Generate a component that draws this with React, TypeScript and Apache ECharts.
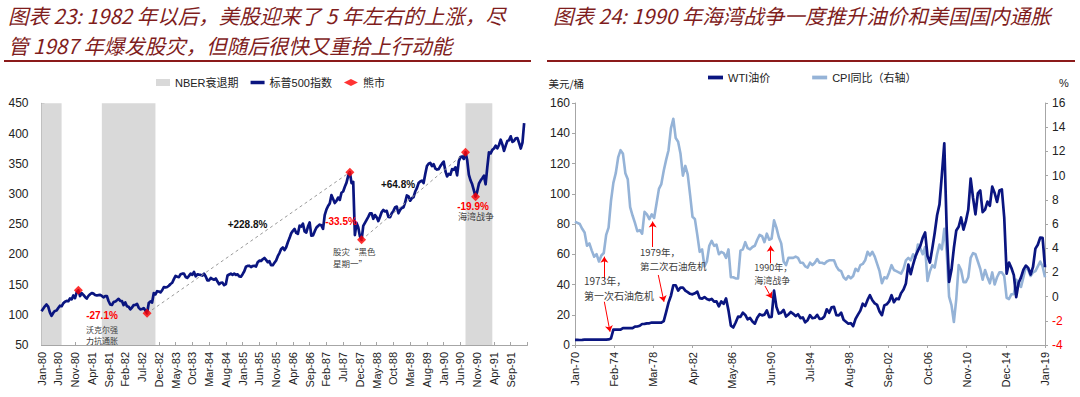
import React, { useEffect, useRef } from 'react';
import * as echarts from 'echarts';

const MONTHS = ['Jan', 'Feb', 'Mar', 'Apr', 'May', 'Jun', 'Jul', 'Aug', 'Sep', 'Oct', 'Nov', 'Dec'];

// ---------- Left chart: S&P 500, semi-monthly (start / mid of each month), from Jan 1980 ----------
const SPX_BASE_YEAR = 1980;
const spx = [
  105.8, 110, 114, 117, 113.7, 104, 98.2, 103, 106.3, 107, 111.2, 115, 114.2, 119, 121.7, 123, 122.4, 127, 125.5, 132, 127.5, 137, 140.5, 131,
  135.8, 133, 129.6, 127, 131.3, 134, 136, 135, 132.8, 132, 132.6, 133, 131.2, 129, 130.9, 131, 122.8, 117, 116.2, 121, 121.9, 124, 126.4, 123,
  122.6, 116, 120.4, 114, 113.1, 109, 112, 116, 116.4, 118, 111.9, 109, 109.6, 111, 107.1, 102.4, 119.5, 122, 120.4, 136, 133.7, 139, 138.5, 137,
  140.6, 146, 145.3, 146, 148.1, 151, 153, 159, 164.4, 163, 162.4, 167, 168.1, 168, 162.6, 161, 164.4, 168, 166.1, 171, 163.6, 167, 166.4, 166,
  164.9, 168, 163.4, 157, 157.1, 161, 159.2, 158, 160.1, 155, 150.6, 153, 153.2, 149, 150.7, 165, 166.7, 168, 166.1, 168, 166.1, 167, 163.6, 163,
  167.2, 172, 179.6, 181, 181.2, 179, 180.7, 181, 179.8, 187, 189.6, 189, 191.9, 194, 190.9, 187, 188.6, 182, 182.1, 186, 189.8, 197, 202.2, 209,
  211.3, 207, 211.8, 220, 226.9, 235, 238.9, 242, 235.5, 234, 247.4, 246, 250.8, 238, 236.1, 246, 252.9, 231, 231.3, 238, 244, 247, 249.2, 248,
  242.2, 265, 274.1, 280, 284.2, 298, 291.7, 285, 288.4, 294, 290.1, 302, 304, 312, 318.7, 330, 336, 318, 320, 232, 252, 245, 230, 224,
  247.1, 252, 257.1, 262, 267.8, 268, 258.9, 265, 261.3, 255, 262.2, 270, 273.5, 271, 272, 262, 261.5, 268, 271.9, 278, 279, 268, 273.7, 277,
  277.7, 286, 297.5, 296, 288.9, 293, 294.9, 304, 309.6, 318, 320.5, 322, 318, 333, 346.1, 350, 351.5, 346, 349.2, 342, 340.4, 341, 346, 350,
  353.4, 338, 329.1, 333, 331.9, 341, 339.9, 344, 330.8, 354, 361.2, 362, 358, 369, 356.2, 332, 322.6, 316, 306, 295.5, 304, 317, 322.2, 326,
  330.2, 316, 343.9, 369, 367.1, 373, 375.2, 380, 375.3, 381, 389.8, 382, 371.2, 380, 387.8, 389, 395.4, 386, 387.9, 392, 392.5, 384, 375.2, 385,
  417.1,
];
// NBER recessions, in months since Jan 1980
const nberStart = [0, 18, 126.5];
const nberEnd = [6, 34, 134.5];
// Bear market turning points (months since Jan 1980, index level)
const bearX = [11, 31.5, 92, 95.5, 126.5, 129.5];
const bearY = [140.5, 102.4, 336, 224, 369, 295.5];

// ---------- Right chart: WTI & CPI YoY, quarterly (Jan/Apr/Jul/Oct) from Jan 1970 ----------
const OIL_BASE_YEAR = 1970;
const wti = [
  3.35, 3.35, 3.31, 3.4, 3.56, 3.56, 3.56, 3.56, 3.56, 3.56, 3.56, 3.56, 3.56, 3.56, 3.66, 4.31,
  10.11, 10.11, 10.11, 10.11, 11.16, 11.16, 11.16, 11.16, 11.16, 12.17, 12.23, 12.7, 13.9, 13.93, 14.27, 14.35,
  14.85, 14.85, 14.85, 14.85, 14.85, 15.85, 21.75, 28.0, 32.5, 39.5, 39.5, 36.0, 38.0, 38.0, 36.0, 35.0,
  33.85, 33.5, 34.2, 35.3, 31.0, 30.6, 31.7, 30.4, 29.7, 30.5, 28.7, 28.8, 25.6, 28.8, 27.3, 30.8,
  22.9, 12.8, 11.6, 14.9, 18.7, 18.6, 21.4, 19.9, 17.0, 17.9, 15.5, 14.1, 18.0, 20.4, 19.6, 20.1,
  22.9, 18.4, 18.6, 35.9, 25.2, 20.8, 21.4, 23.2, 18.8, 20.2, 21.8, 20.6, 19.1, 20.3, 17.8, 18.2,
  15.0, 16.4, 19.7, 17.7, 18.0, 19.9, 17.3, 17.4, 18.9, 23.6, 21.3, 24.9, 25.2, 19.7, 19.6, 21.3,
  16.7, 15.4, 14.1, 14.4, 12.5, 17.3, 20.1, 22.7, 27.3, 25.7, 29.8, 32.9, 29.6, 27.5, 26.5, 22.2,
  19.7, 26.2, 26.9, 28.8, 32.9, 28.3, 30.7, 30.3, 34.3, 36.7, 40.7, 53.1, 46.8, 53.2, 58.7, 62.4,
  65.5, 70.9, 74.4, 58.9, 54.5, 63.9, 74.1, 85.8, 93.0, 112.6, 133.4, 76.7, 41.7, 49.7, 64.1, 75.7,
  78.2, 84.3, 76.3, 81.9, 89.4, 110.0, 97.2, 86.4, 100.3, 102.2, 87.9, 89.5, 94.8, 92.0, 104.7, 100.5,
  94.6, 102.1, 102.9, 84.3, 47.2, 54.5, 50.9, 46.2, 31.7, 41.1, 44.7, 49.8, 52.5, 51.0, 46.6, 51.6,
  63.7, 66.3, 71.0, 70.8, 51.4,
];
const cpi = [
  6.2, 6.1, 6.0, 5.6, 5.3, 4.2, 4.4, 3.8, 3.3, 3.5, 2.9, 3.4, 3.6, 5.1, 5.7, 7.9,
  9.4, 10.2, 11.5, 12.1, 11.8, 10.2, 9.7, 7.4, 6.7, 6.1, 5.4, 5.5, 5.2, 7.0, 6.8, 6.4,
  6.8, 6.5, 7.7, 8.9, 9.3, 10.4, 11.3, 12.1, 13.9, 14.7, 13.1, 12.8, 11.8, 10.0, 10.8, 10.1,
  8.4, 6.6, 6.4, 5.1, 3.7, 3.9, 2.5, 2.9, 4.2, 4.6, 4.2, 4.3, 3.5, 3.7, 3.6, 3.2,
  3.9, 1.6, 1.6, 1.5, 1.5, 3.8, 3.9, 4.5, 4.0, 3.9, 4.1, 4.2, 4.7, 5.1, 5.0, 4.5,
  5.2, 4.7, 4.8, 6.3, 5.7, 4.9, 4.4, 2.9, 2.6, 3.2, 3.2, 3.2, 3.3, 3.2, 2.8, 2.8,
  2.5, 2.4, 2.8, 2.6, 2.8, 3.1, 2.8, 2.8, 2.7, 2.9, 3.0, 3.0, 3.0, 2.5, 2.2, 2.1,
  1.6, 1.4, 1.7, 1.5, 1.7, 2.3, 2.1, 2.6, 2.7, 3.0, 3.7, 3.4, 3.7, 3.3, 2.7, 2.1,
  1.1, 1.6, 1.5, 2.0, 2.6, 2.2, 2.1, 2.0, 1.9, 2.3, 3.0, 3.2, 3.0, 3.5, 3.2, 4.3,
  4.0, 3.5, 4.1, 1.3, 2.1, 2.6, 2.4, 3.5, 4.3, 3.9, 5.6, 3.7, 0.0, -0.7, -2.1, -0.2,
  2.6, 2.2, 1.2, 1.2, 1.6, 3.2, 3.6, 3.5, 2.9, 2.3, 1.4, 2.2, 1.6, 1.1, 2.0, 1.0,
  1.6, 2.0, 2.0, 1.7, -0.1, -0.2, 0.2, 0.2, 1.4, 1.1, 0.8, 1.6, 2.5, 2.2, 1.7, 2.0,
  2.1, 2.5, 2.9, 2.5, 1.6,
];
// annotation arrows (months since Jan 1970; start value -> tip value)
const cpiArrows = [[36.7, 1.4, 36.7, 3.3], [97.2, 4.1, 97.2, 6.2], [244.8, 2.75, 244.8, 4.2]];
const oilArrows = [[36.7, 28.6, 43.8, 8.8], [104.2, 46.3, 111.3, 28.6], [237.7, 39.0, 246.1, 30.9]];

const FONT = "'Liberation Sans', 'Noto Sans CJK SC', sans-serif";
const CJK = "'Noto Sans CJK SC', 'Liberation Sans', sans-serif";
const TITLE_COLOR = '#7f1d1d';
const NAVY = '#0a1580';
const AXIS_GRAY = '#a6a6a6';
const LINE_ICON = 'path://M0,0L14,0L14,3.5L0,3.5Z';

const monthLabel = (base: number, step: number, last: number) => (v: any) => {
  const n = Number(v);
  if (Math.abs(n - Math.round(n)) > 1e-6) return '';
  const i = Math.round(n);
  if (i % step !== 0 || i > last) return '';
  const y = base + Math.floor(i / 12);
  return MONTHS[i % 12] + '-' + String(y % 100).padStart(2, '0');
};

function txt(text: string, x: number, y: number, o: any = {}) {
  return {
    type: 'text',
    x,
    y,
    silent: true,
    z: 100,
    style: {
      text,
      fill: o.fill || '#404040',
      fontSize: o.fontSize || 10,
      fontFamily: o.fontFamily || CJK,
      fontWeight: o.fontWeight || 'normal',
      fontStyle: o.fontStyle || 'normal',
      lineHeight: o.lineHeight,
      align: o.align || 'left',
      textAlign: o.align || 'left',
      verticalAlign: 'middle',
      textVerticalAlign: 'middle',
    },
  };
}

export default function App() {
  const ref = useRef<HTMLDivElement>(null);
  useEffect(() => {
    if (!ref.current) return;
    const chart = echarts.init(ref.current, undefined, { renderer: 'svg' });
    const spxData = spx.map((v, i) => [i / 2, v]);
    const wtiData = wti.map((v, i) => [i * 3, v]);
    const cpiData = cpi.map((v, i) => [i * 3, v]);
    const bearData = bearX.map((x, i) => [x, bearY[i]]);

    const axisLabelBase = { color: '#222', fontFamily: FONT };
    const option: any = {
      animation: false,
      textStyle: { fontFamily: FONT },
      grid: [
        { left: 41.5, top: 103.3, width: 486, height: 241.7 },
        { left: 575, top: 103, width: 470, height: 242 },
      ],
      xAxis: [
        {
          type: 'value', gridIndex: 0, min: 0, max: 145, interval: 5,
          splitLine: { show: false },
          axisLine: { lineStyle: { color: AXIS_GRAY } },
          axisTick: { inside: true, length: 3, lineStyle: { color: AXIS_GRAY } },
          axisLabel: { ...axisLabelBase, rotate: 90, fontSize: 11, margin: 7, formatter: monthLabel(SPX_BASE_YEAR, 5, 140) },
        },
        {
          type: 'value', gridIndex: 1, min: 0, max: 588, interval: 49,
          splitLine: { show: false },
          axisLine: { lineStyle: { color: AXIS_GRAY } },
          axisTick: { length: 3, lineStyle: { color: AXIS_GRAY } },
          axisLabel: { ...axisLabelBase, rotate: 90, fontSize: 11, margin: 7, formatter: monthLabel(OIL_BASE_YEAR, 49, 588) },
        },
      ],
      yAxis: [
        {
          type: 'value', gridIndex: 0, min: 50, max: 450, interval: 50,
          splitLine: { show: false },
          axisLine: { show: true, lineStyle: { color: AXIS_GRAY } },
          axisTick: { show: true, inside: true, length: 3, lineStyle: { color: AXIS_GRAY } },
          axisLabel: { ...axisLabelBase, fontSize: 12, margin: 13 },
        },
        {
          type: 'value', gridIndex: 1, min: 0, max: 160, interval: 20, position: 'left',
          splitLine: { show: false },
          axisLine: { show: true, lineStyle: { color: AXIS_GRAY } },
          axisTick: { show: true, length: 3, lineStyle: { color: AXIS_GRAY } },
          axisLabel: { ...axisLabelBase, fontSize: 12, margin: 5 },
        },
        {
          type: 'value', gridIndex: 1, min: -4, max: 16, interval: 2, position: 'right',
          splitLine: { show: false },
          axisLine: { show: true, lineStyle: { color: AXIS_GRAY } },
          axisTick: { show: true, length: 3, lineStyle: { color: AXIS_GRAY } },
          axisLabel: {
            ...axisLabelBase, fontSize: 12, margin: 7,
            color: (v: any) => (Number(v) < 0 ? '#ff0000' : '#222'),
          },
        },
      ],
      legend: [
        {
          left: 156, top: 77, padding: 0, itemWidth: 14, itemHeight: 7, itemGap: 12,
          textStyle: { fontSize: 11, color: '#222', fontFamily: FONT },
          data: [{ name: 'NBER衰退期', icon: 'rect' }, { name: '标普500指数', icon: LINE_ICON }, { name: '熊市', icon: 'diamond' }],
          selectedMode: false,
        },
        {
          left: 708, top: 72, padding: 0, itemWidth: 15, itemHeight: 7, itemGap: 42,
          textStyle: { fontSize: 11, color: '#222', fontFamily: FONT },
          data: [{ name: 'WTI油价', icon: LINE_ICON }, { name: 'CPI同比（右轴）', icon: LINE_ICON }],
          selectedMode: false,
        },
      ],
      series: [
        {
          name: 'NBER衰退期', type: 'line', xAxisIndex: 0, yAxisIndex: 0, data: [],
          symbol: 'none', color: '#d9d9d9', itemStyle: { color: '#d9d9d9' },
          markArea: {
            silent: true,
            itemStyle: { color: '#d9d9d9', opacity: 1 },
            data: nberStart.map((s, i) => [{ xAxis: s }, { xAxis: nberEnd[i] }]),
          },
        },
        {
          name: '标普500指数', type: 'line', xAxisIndex: 0, yAxisIndex: 0, data: spxData,
          symbol: 'none', color: NAVY, z: 3,
          lineStyle: { color: NAVY, width: 2.7, join: 'round' },
          markLine: {
            silent: true, symbol: ['none', 'none'], label: { show: false },
            lineStyle: { color: '#9a9a9a', width: 1, type: [3, 3] },
            emphasis: { disabled: true },
            data: [
              [{ coord: [bearX[1], bearY[1]] }, { coord: [bearX[2], bearY[2]] }],
              [{ coord: [bearX[3], bearY[3]] }, { coord: [bearX[4], bearY[4]] }],
            ],
          },
        },
        {
          name: '熊市', type: 'scatter', xAxisIndex: 0, yAxisIndex: 0, data: bearData,
          symbol: 'diamond', symbolSize: 9, color: '#ff0000', itemStyle: { color: '#ff0000' }, z: 10,
        },
        {
          name: 'CPI同比（右轴）', type: 'line', xAxisIndex: 1, yAxisIndex: 2, data: cpiData,
          symbol: 'none', color: '#95b3d7', z: 3,
          lineStyle: { color: '#95b3d7', width: 2.6, join: 'round' },
          markLine: {
            silent: true, symbol: ['none', 'arrow'], symbolSize: 6, label: { show: false },
            lineStyle: { color: '#ff0000', width: 1, type: 'solid' },
            emphasis: { disabled: true },
            data: cpiArrows.map((a) => [{ coord: [a[0], a[1]] }, { coord: [a[2], a[3]] }]),
          },
        },
        {
          name: 'WTI油价', type: 'line', xAxisIndex: 1, yAxisIndex: 1, data: wtiData,
          symbol: 'none', color: NAVY, z: 4,
          lineStyle: { color: NAVY, width: 2.7, join: 'round' },
          markLine: {
            silent: true, symbol: ['none', 'arrow'], symbolSize: 6, label: { show: false },
            lineStyle: { color: '#ff0000', width: 1, type: 'solid' },
            emphasis: { disabled: true },
            data: oilArrows.map((a) => [{ coord: [a[0], a[1]] }, { coord: [a[2], a[3]] }]),
          },
        },
      ],
      graphic: [
        txt('图表 23: 1982 年以后，美股迎来了 5 年左右的上涨，尽', 8, 15, { fontSize: 20.5, fill: TITLE_COLOR, fontStyle: 'italic' }),
        txt('管 1987 年爆发股灾，但随后很快又重拾上行动能', 8, 45, { fontSize: 20.5, fill: TITLE_COLOR, fontStyle: 'italic' }),
        txt('图表 24: 1990 年海湾战争一度推升油价和美国国内通胀', 553, 15, { fontSize: 20.5, fill: TITLE_COLOR, fontStyle: 'italic' }),
        { type: 'line', silent: true, shape: { x1: 4, y1: 61, x2: 531, y2: 61 }, style: { stroke: '#8b1a1a', lineWidth: 2 } },
        { type: 'line', silent: true, shape: { x1: 547, y1: 61, x2: 1075, y2: 61 }, style: { stroke: '#8b1a1a', lineWidth: 2 } },
        // left chart annotations
        txt('+228.8%', 247.5, 224, { fontFamily: FONT, fontWeight: 'bold', fill: '#111', align: 'center' }),
        txt('+64.8%', 398, 184.5, { fontFamily: FONT, fontWeight: 'bold', fill: '#111', align: 'center' }),
        txt('-27.1%', 102, 315.7, { fontFamily: FONT, fontWeight: 'bold', fill: '#ff0000', align: 'center' }),
        txt('-33.5%', 341, 221.7, { fontFamily: FONT, fontWeight: 'bold', fill: '#ff0000', align: 'center' }),
        txt('-19.9%', 473, 206, { fontFamily: FONT, fontWeight: 'bold', fill: '#ff0000', align: 'center' }),
        txt('沃克尔强\n力抗通胀', 102, 334.7, { fontSize: 8, lineHeight: 11.2, align: 'center' }),
        txt('股灾“黑色\n星期一”', 333, 257.2, { fontSize: 8.5, lineHeight: 11.8 }),
        txt('海湾战争', 476, 216.7, { fontSize: 9, align: 'center' }),
        // right chart annotations
        txt('美元/桶', 548.5, 83, { fontSize: 10.5, fill: '#222' }),
        txt('%', 1059, 83, { fontSize: 11, fill: '#222', fontFamily: FONT }),
        txt('1973年，\n第一次石油危机', 584, 288.3, { fontSize: 10, lineHeight: 14.7 }),
        txt('1979年，\n第二次石油危机', 640, 258.7, { fontSize: 9.5, lineHeight: 13.6 }),
        txt('1990年，\n海湾战争', 754.3, 274.2, { fontSize: 9, lineHeight: 12.6 }),
      ],
    };
    chart.setOption(option);
    return () => chart.dispose();
  }, []);
  return <div ref={ref} style={{ position: 'absolute', left: 0, top: 0, width: 1080, height: 397, background: '#fff' }} />;
}
